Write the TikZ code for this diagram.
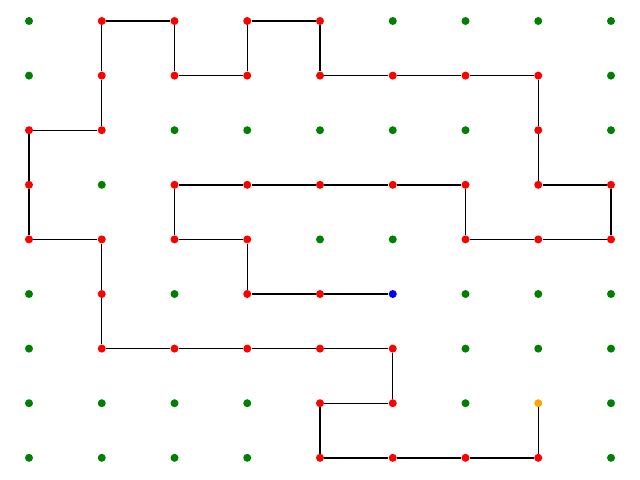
\documentclass[tikz,border=0pt]{standalone}
\usepackage{xcolor}
\usepackage{tikz}
\definecolor{dotgreen}{RGB}{0,128,0}
\definecolor{dotorange}{RGB}{255,165,0}

\begin{document}
\begin{tikzpicture}[
    x=1.81875cm, y=1.365cm,
    dot/.style={circle, inner sep=0pt, minimum size=0.2cm},
    free/.style={dot, fill=dotgreen},
    visited/.style={dot, fill=red},
    start/.style={dot, fill=dotorange},
    goal/.style={dot, fill=blue},
    trail/.style={draw=black, line width=1pt}
]
\useasboundingbox (-0.3986,-0.403) rectangle (8.3986,8.385);
% start and goal
\node[start] (dot-7-1) at (7,1) {};
\node[goal] (dot-5-3) at (5,3) {};
% visited cells
\foreach \c/\r in {7/0,6/0,5/0,4/0,4/1,5/1,5/2,4/2,3/2,2/2,1/2,1/3,1/4,0/4,0/5,0/6,
    1/6,1/7,1/8,2/8,2/7,3/7,3/8,4/8,4/7,5/7,6/7,7/7,7/6,7/5,8/5,8/4,7/4,6/4,6/5,
    5/5,4/5,3/5,2/5,2/4,3/4,3/3,4/3}
    \node[visited] (dot-\c-\r) at (\c,\r) {};
% remaining cells
\foreach \c in {0,...,8}
  \foreach \r in {0,...,8}
    {\ifcsname pgf@sh@ns@dot-\c-\r\endcsname\else
       \node[free] (dot-\c-\r) at (\c,\r) {};
     \fi}
% path
\foreach \p [remember=\p as \q (initially 7-1)] in {7-0,6-0,5-0,4-0,4-1,5-1,5-2,4-2,
    3-2,2-2,1-2,1-3,1-4,0-4,0-5,0-6,1-6,1-7,1-8,2-8,2-7,3-7,3-8,4-8,4-7,5-7,6-7,
    7-7,7-6,7-5,8-5,8-4,7-4,6-4,6-5,5-5,4-5,3-5,2-5,2-4,3-4,3-3,4-3,5-3}
    \draw[trail] (dot-\q) -- (dot-\p);
\end{tikzpicture}
\end{document}
